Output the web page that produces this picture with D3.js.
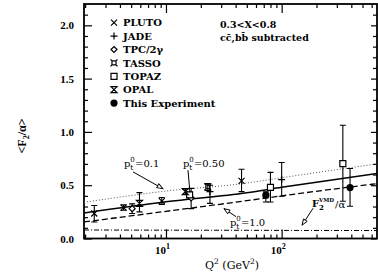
<!DOCTYPE html>
<html><head><meta charset="utf-8">
<script src="https://cdn.jsdelivr.net/npm/d3@7"></script>
<style>html,body{margin:0;padding:0;background:#fff;} svg{display:block}</style>
</head><body><svg id="c" width="378" height="275"></svg>
<script>
// ---- data ----
const yTickValues = [0.0, 0.5, 1.0, 1.5, 2.0];
const xMajorTicks = [10, 100];
const xTickExponents = ["1", "2"];
const curveQ2   = [1.956, 10, 50, 100, 667];
const curvePt01 = [0.34, 0.445, 0.52, 0.57, 0.70];   // dotted  p_t0 = 0.1
const curvePt05 = [0.24, 0.345, 0.43, 0.48, 0.61];   // solid   p_t0 = 0.50
const curvePt10 = [0.155, 0.255, 0.355, 0.40, 0.515];// dashed  p_t0 = 1.0
const curveVMD  = [0.08, 0.078, 0.077, 0.076, 0.075];// dash-dot F2VMD/alpha

const pluto  = [{q:2.4,f:0.235,lo:0.155,hi:0.31},{q:4.3,f:0.29,lo:0.265,hi:0.315},{q:9.2,f:0.35,lo:0.32,hi:0.385},{q:45,f:0.54,lo:0.44,hi:0.65}];
const jade   = [{q:24,f:0.44,lo:0.33,hi:0.50},{q:100,f:0.553,lo:0.397,hi:0.713}];
const tpc    = [{q:5.1,f:0.28,lo:0.235,hi:0.325},{q:16.5,f:0.38,lo:0.28,hi:0.47}];
const tasso  = [{q:23,f:0.485,lo:0.45,hi:0.515}];
const topaz  = [{q:16,f:0.41,lo:0.385,hi:0.435},{q:80,f:0.48,lo:0.343,hi:0.62},{q:338,f:0.703,lo:0.35,hi:1.063}];
const opal   = [{q:5.9,f:0.33,lo:0.25,hi:0.43},{q:14.7,f:0.44,lo:0.415,hi:0.465}];
const thisExp= [{q:73,f:0.406,lo:0.343,hi:0.437},{q:390,f:0.478,lo:0.303,hi:0.657}];

const legendNames = ["PLUTO","JADE","TPC/2\u03b3","TASSO","TOPAZ","OPAL","This Experiment"];
const legendSyms  = ["x","plus","diamond","tasso","square","opal","dot"];

// ---- layout ----
const L=84, R=377, T=4, B=238.5;
const svg = d3.select("#c");
const x = d3.scaleLog().domain([1.956, 667]).range([L, R]);
const y = d3.scaleLinear().domain([0, 2.2]).range([B, T]);
const serif = "'DejaVu Serif', serif";
const tserif = "'Liberation Serif', 'Times New Roman', serif";

// ---- axes (ticks inward) ----
const minorX = [];
for (let e=0; e<3; e++) for (let m=2; m<=9; m++) { const v=m*Math.pow(10,e); if (v>1.956 && v<667) minorX.push(v); }
const minorY = d3.range(0, 22).map(i=>+(i*0.1).toFixed(1)).filter(v=>Math.abs(v*2-Math.round(v*2))>1e-6);

function axisG(axis, tr){ const g=svg.append("g").attr("transform",tr).call(axis); g.select(".domain").remove(); g.selectAll("line").attr("stroke","#000").attr("stroke-width",1.2); return g; }
axisG(d3.axisBottom(x).tickValues(minorX).tickSize(-4).tickFormat(""), `translate(0,${B})`);
axisG(d3.axisBottom(x).tickValues(xMajorTicks).tickSize(-9).tickFormat(""), `translate(0,${B})`);
axisG(d3.axisTop(x).tickValues(minorX).tickSize(-4).tickFormat(""), `translate(0,${T})`);
axisG(d3.axisTop(x).tickValues(xMajorTicks).tickSize(-9).tickFormat(""), `translate(0,${T})`);
axisG(d3.axisLeft(y).tickValues(minorY).tickSize(-4).tickFormat(""), `translate(${L},0)`);
const yl = axisG(d3.axisLeft(y).tickValues(yTickValues).tickSize(-8).tickPadding(10).tickFormat(d3.format(".1f")), `translate(${L},0)`);
yl.selectAll("text").attr("font-family",tserif).attr("font-weight","bold").attr("font-size",11).attr("fill","#000");
axisG(d3.axisRight(y).tickValues(minorY).tickSize(-4).tickFormat(""), `translate(${R},0)`);
axisG(d3.axisRight(y).tickValues(yTickValues).tickSize(-6).tickFormat(""), `translate(${R},0)`);

svg.append("rect").attr("x",L).attr("y",T).attr("width",R-L).attr("height",B-T)
  .attr("fill","none").attr("stroke","#000").attr("stroke-width",1.8);

// x tick labels 10^1, 10^2
xMajorTicks.forEach((v,i)=>{
  const t = svg.append("text").attr("x", x(v)+4).attr("y", 254).attr("text-anchor","end")
    .attr("font-family",tserif).attr("font-weight","bold").attr("font-size",11);
  t.append("tspan").text("10");
  t.append("tspan").attr("dy",-5).attr("font-size",8).text(xTickExponents[i]);
});

// axis titles
const xt = svg.append("text").attr("x",232).attr("y",269).attr("text-anchor","middle")
  .attr("font-family",serif).attr("font-size",11);
xt.append("tspan").text("Q");
xt.append("tspan").attr("dy",-5).attr("font-size",7.5).text("2");
xt.append("tspan").attr("dy",5).text(" (GeV");
xt.append("tspan").attr("dy",-5).attr("font-size",7.5).text("2");
xt.append("tspan").attr("dy",5).text(")");

const yt = svg.append("text").attr("transform","translate(26,136) rotate(-90)").attr("text-anchor","middle")
  .attr("font-family",tserif).attr("font-weight","bold").attr("font-size",12);
yt.append("tspan").text("<F");
yt.append("tspan").attr("dy",3).attr("font-size",8).text("2");
yt.append("tspan").attr("dy",-3).text("/\u03b1>");

// ---- curves ----
svg.append("clipPath").attr("id","pc").append("rect").attr("x",L).attr("y",T).attr("width",R-L).attr("height",B-T);
const line = d3.line().x(d=>x(d[0])).y(d=>y(d[1])).curve(d3.curveMonotoneX);
function curve(vals, dash, w, col){
  svg.append("path").attr("clip-path","url(#pc)").attr("d", line(curveQ2.map((q,i)=>[q, vals[i]])))
    .attr("fill","none").attr("stroke",col).attr("stroke-width",w).attr("stroke-dasharray",dash);
}
curve(curvePt01, "1,2", 1, "#555");
curve(curvePt05, null, 1.5, "#000");
curve(curvePt10, "6,3", 1.3, "#000");
curve(curveVMD, "5,2,1,2", 1, "#000");

// ---- markers ----
function symPath(t){
  const s=3;
  switch(t){
    case "x": return `M${-s},${-s}L${s},${s}M${-s},${s}L${s},${-s}`;
    case "plus": return `M${-s-0.5},0H${s+0.5}M0,${-s-0.5}V${s+0.5}`;
    case "diamond": return `M0,${-s}L${s},0L0,${s}L${-s},0Z`;
    case "square": return `M${-s},${-s}H${s}V${s}H${-s}Z`;
    case "tasso": return `M-2,-2H2V2H-2ZM-2,-2L-3.5,-3.5M2,-2L3.5,-3.5M2,2L3.5,3.5M-2,2L-3.5,3.5`;
    case "opal": return `M${-s},${-s}H${s}L${-s},${s}H${s}Z`;
  }
}
function drawSym(g, t, cx, cy){
  if (t==="dot") g.append("circle").attr("cx",cx).attr("cy",cy).attr("r",3.6).attr("fill","#000");
  else g.append("path").attr("d",symPath(t)).attr("transform",`translate(${cx},${cy})`)
        .attr("fill",(t==="square"||t==="diamond")?"#fff":"none").attr("stroke","#000").attr("stroke-width",1.2);
}
const sets = [[pluto,"x"],[jade,"plus"],[tpc,"diamond"],[tasso,"tasso"],[topaz,"square"],[opal,"opal"],[thisExp,"dot"]];
const gd = svg.append("g");
sets.forEach(([data, t])=>{
  data.forEach(d=>{
    const cx=x(d.q);
    gd.append("path").attr("d",`M${cx},${y(d.hi)}V${y(d.lo)}M${cx-3},${y(d.hi)}H${cx+3}M${cx-3},${y(d.lo)}H${cx+3}`)
      .attr("stroke","#000").attr("stroke-width",1.1).attr("fill","none");
  });
});
sets.forEach(([data, t])=>{ data.forEach(d=>drawSym(gd, t, x(d.q), y(d.f))); });

// ---- legend ----
legendNames.forEach((n,i)=>{
  const yy = 22.7 + i*13.4;
  drawSym(svg, legendSyms[i], 114, yy);
  svg.append("text").attr("x",123).attr("y",yy+3.6).attr("font-family",serif).attr("font-weight","bold")
    .attr("font-size",10).text(n);
});
svg.append("text").attr("x",220).attr("y",28).attr("font-family",serif).attr("font-weight","bold").attr("font-size",9.5).text("0.3<X<0.8");
svg.append("text").attr("x",220).attr("y",40.5).attr("font-family",serif).attr("font-weight","bold").attr("font-size",9.5).text("cc\u0304,bb\u0304 subtracted");

// ---- annotations (positions in data coordinates) ----
function ptLabel(q, v, val){
  const px=x(q), py=y(v);
  const g=svg.append("g").attr("font-family",serif).attr("font-size",10);
  g.append("text").attr("x",px).attr("y",py).text("p");
  g.append("text").attr("x",px+6.3).attr("y",py+3).attr("font-size",7.5).text("t");
  g.append("text").attr("x",px+6.3).attr("y",py-5).attr("font-size",7).text("0");
  g.append("text").attr("x",px+11).attr("y",py).text("="+val);
}
function arrow(q1,v1,q2,v2,head){
  const x1=x(q1),y1=y(v1),x2=x(q2),y2=y(v2);
  svg.append("line").attr("x1",x1).attr("y1",y1).attr("x2",x2).attr("y2",y2).attr("stroke","#000").attr("stroke-width",1);
  if(head){
    const a=Math.atan2(y2-y1,x2-x1)*180/Math.PI;
    svg.append("path").attr("d","M0,0L-6,-2.2L-6,2.2Z").attr("transform",`translate(${x2},${y2}) rotate(${a})`)
      .attr("fill","#fff").attr("stroke","#000").attr("stroke-width",0.9);
  }
}
ptLabel(4.34, 0.669, "0.1");   arrow(5.19, 0.625, 9.42, 0.467, true);
ptLabel(14.0, 0.669, "0.50");  arrow(15.5, 0.641, 16.1, 0.434, false);
ptLabel(35.7, 0.115, "1.0");   arrow(40.3, 0.205, 31.7, 0.28, true);
// F2^VMD / alpha
(function(){
  const px=x(183), py=y(0.30);
  const g=svg.append("g").attr("font-family",serif).attr("font-weight","bold");
  g.append("text").attr("x",px).attr("y",py).attr("font-size",10).text("F");
  g.append("text").attr("x",px+7).attr("y",py+3).attr("font-size",7).text("2");
  g.append("text").attr("x",px+7).attr("y",py-5).attr("font-size",5.5).text("VMD");
  g.append("text").attr("x",px+23).attr("y",py+1).attr("font-size",10).attr("font-weight","normal").text("/\u03b1");
})();
arrow(187, 0.284, 150, 0.125, true);
</script></body></html>
